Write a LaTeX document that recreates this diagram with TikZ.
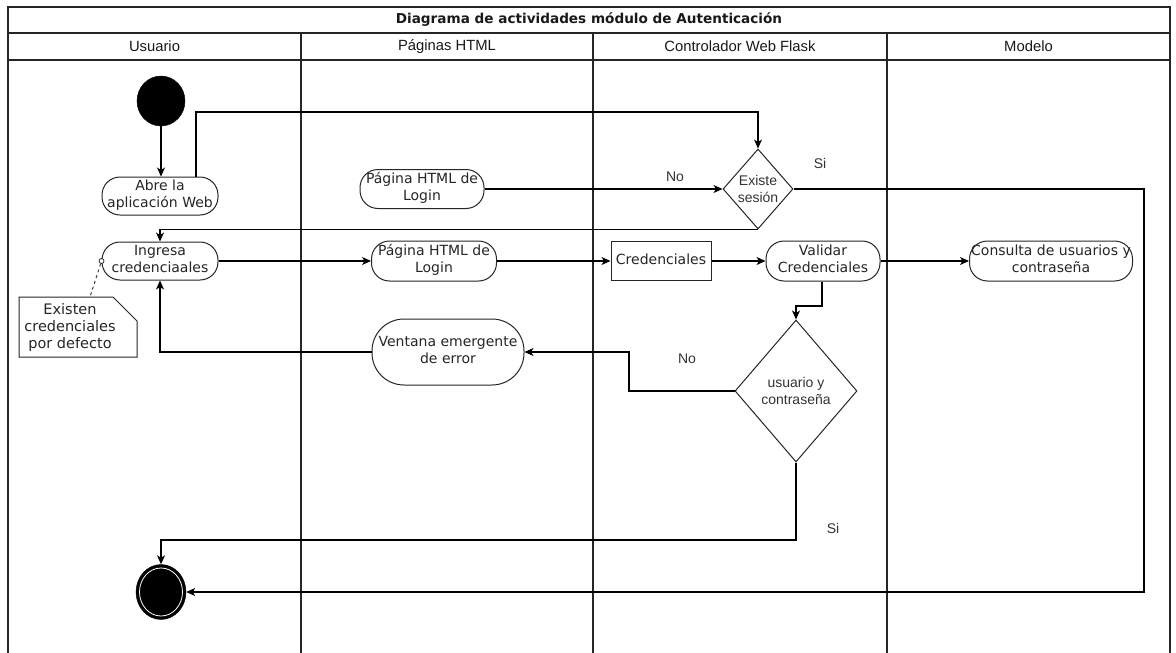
\documentclass[tikz,border=0pt]{standalone}
\usepackage{fontspec}
\setmainfont{DejaVu Sans}
\newfontfamily\arialfont{Liberation Sans}
\usetikzlibrary{shapes.geometric,arrows.meta}

% centred multi-line text of zero width, so that box sizes stay fixed
\newcommand{\mlines}[1]{\makebox[0pt]{\begin{tabular}{@{}c@{}}#1\end{tabular}}}
\newcommand{\acttext}{\fontsize{14}{17}\selectfont}
\newcommand{\lbltext}{\arialfont\fontsize{14}{16.5}\selectfont}

\tikzset{
  frame/.style={line width=1.1pt, draw=black!85},
  act/.style={draw=black!85, line width=1pt, rounded corners=18pt, inner sep=0pt,
              text=black!85, font=\acttext},
  box/.style={draw=black!85, line width=1pt, inner sep=0pt, text=black!85, font=\acttext},
  decision/.style={diamond, draw=black!85, line width=1pt, inner sep=0pt, shape aspect=1},
  arr/.style={line width=1.1pt, draw=black, -{Stealth[length=9pt,width=8pt,inset=2.5pt]}},
  lbl/.style={font=\lbltext, text=black!80, inner sep=0pt},
  hdr/.style={font=\arialfont\fontsize{14.8}{17}\selectfont, text=black!90, inner sep=0pt},
}

\begin{document}
\begin{tikzpicture}[x=1pt, y=-1pt]
\useasboundingbox (0,0) rectangle (1176,653);
\clip (0,0) rectangle (1176,653);
\fill[white] (0,0) rectangle (1176,653);

% swimlane frame
\draw[frame] (8,7) rectangle (1170,660);
\draw[frame] (8,33) -- (1170,33);
\draw[frame] (8,60) -- (1170,60);
\draw[frame] (301,33) -- (301,660);
\draw[frame] (593,33) -- (593,660);
\draw[frame] (887,33) -- (887,660);

\node[font=\bfseries\fontsize{13.6}{16}\selectfont, text=black!90, inner sep=0pt] (title) at (589,20) {Diagrama de actividades módulo de Autenticación};
\node[hdr] (h1) at (154.5,46.5) {Usuario};
\node[hdr] (h2) at (447,46.5) {Páginas HTML};
\node[hdr] (h3) at (740,46.5) {Controlador Web Flask};
\node[hdr] (h4) at (1028.5,46.5) {Modelo};

% activities
\node[ellipse, fill=black, draw=black, minimum width=48pt, minimum height=50pt, inner sep=0pt] (start) at (161,101) {};
\node[act, minimum width=116pt, minimum height=38pt] (abre) at (160,196) {\mlines{Abre la\\aplicación Web}};
\node[act, minimum width=116pt, minimum height=38pt] (ingresa) at (160,261) {\mlines{Ingresa\\credenciaales}};
\node[act, minimum width=124pt, minimum height=39pt] (pag1) at (422,189) {\mlines{Página HTML de\\Login}};
\node[act, minimum width=125pt, minimum height=40pt] (pag2) at (434,261) {\mlines{Página HTML de\\Login}};
\node[box, minimum width=100pt, minimum height=39pt] (cred) at (661,261) {\mlines{Credenciales}};
\node[act, minimum width=114pt, minimum height=40pt] (validar) at (823,261) {\mlines{Validar\\Credenciales}};
\node[act, minimum width=163pt, minimum height=40pt] (consulta) at (1051,261) {\mlines{Consulta de usuarios y\\contraseña}};
\node[act, rounded corners=32pt, minimum width=152pt, minimum height=66pt] (ventana) at (448,352) {\mlines{Ventana emergente\\de error}};

% decisions
\node[decision, minimum width=70pt, minimum height=80pt,
      label={[lbl, align=center]center:Existe\\sesión}] (existe) at (758,189) {};
\node[decision, minimum width=122pt, minimum height=142pt,
      label={[lbl, align=center]center:usuario y\\contraseña}] (usr) at (796,391) {};

% final node
\node[ellipse, fill=black, draw=black, minimum width=50pt, minimum height=55pt, inner sep=0pt] (end) at (161,592) {};
\node[ellipse, draw=white, line width=0.8pt, minimum width=43pt, minimum height=48pt, inner sep=0pt] (endring) at (end.center) {};

% note
\coordinate (nA) at (19,297);
\coordinate (nB) at (113,297);
\coordinate (nC) at (137,321);
\coordinate (nD) at (137,357);
\coordinate (nE) at (19,357);
\coordinate (ntop) at (90,297);
\draw[line width=1pt, draw=black!85, fill=white] (nA) -- (nB) -- (nC) -- (nD) -- (nE) -- cycle;
\node[font=\fontsize{14.5}{17}\selectfont, text=black!85, align=center, inner sep=0pt] (note) at (70,327) {Existen\\credenciales\\por defecto};
\node[circle, draw=black!85, fill=white, line width=0.8pt, minimum size=5pt, inner sep=0pt] (pin) at (ingresa.west) {};
\draw[dashed, line width=0.9pt, draw=black!80] (pin) -- (ntop);

% control flow
\coordinate (k1) at (196,112);
\coordinate (k2) at (1144,592);
\coordinate (k3) at (822,306);
\coordinate (k4) at (629,391);
\coordinate (k5) at (796,540);

\draw[arr] (start.south) -- (start.south |- abre.north);
\draw[arr] (k1 |- abre.north) -- (k1) -| (existe.north);
\draw[arr] (pag1.east) -- (existe.west);
\draw[arr] (existe.south) -| (ingresa.north);
\draw[arr] (existe.east) -| (k2) -- (end.east);
\draw[arr] (ingresa.east) -- (pag2.west);
\draw[arr] (pag2.east) -- (cred.west);
\draw[arr] (cred.east) -- (validar.west);
\draw[arr] (validar.east) -- (consulta.west);
\draw[arr] (k3 |- validar.south) -- (k3) -| (usr.north);
\draw[arr] (usr.west) -- (k4) |- (ventana.east);
\draw[arr] (ventana.west) -| (ingresa.south);
\draw[arr] (usr.south) -- (k5) -| (end.north);

% branch labels
\node[lbl] (no1) at (675,177) {No};
\node[lbl] (si1) at (820,163) {Si};
\node[lbl] (no2) at (687,359) {No};
\node[lbl] (si2) at (833,528) {Si};
\end{tikzpicture}
\end{document}
